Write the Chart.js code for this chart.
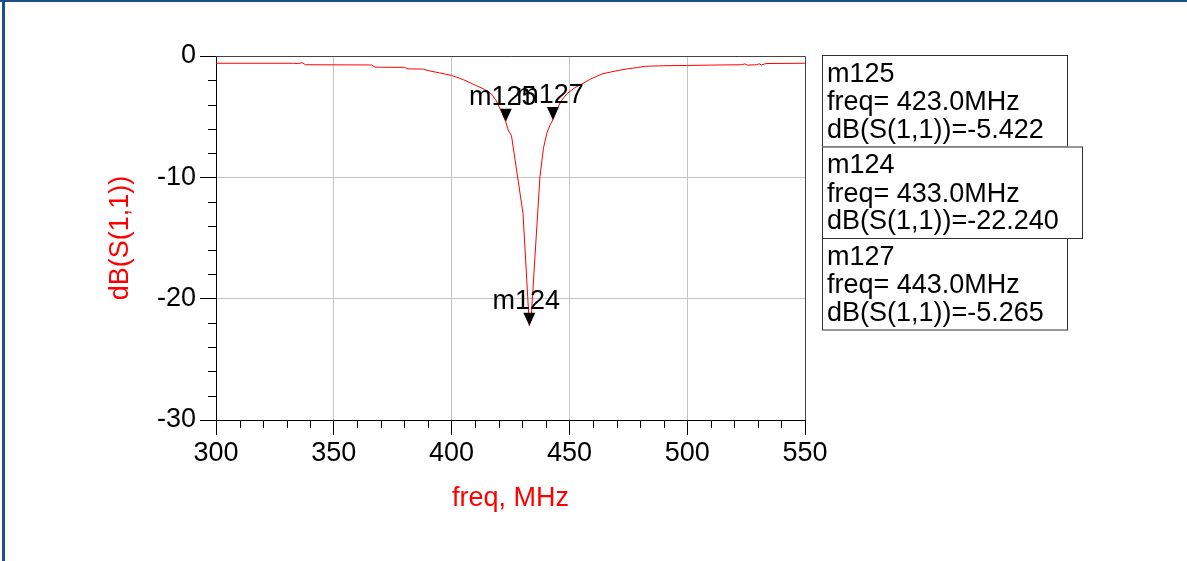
<!DOCTYPE html>
<html>
<head>
<meta charset="utf-8">
<script src="https://cdn.jsdelivr.net/npm/chart.js@4/dist/chart.umd.min.js"></script>
<style>
  html, body { margin: 0; padding: 0; background: #fff; }
  #wrap { position: relative; width: 1187px; height: 561px; overflow: hidden; }
  #edgeTop { position: absolute; left: 0; top: 0; width: 1187px; height: 2px; background: #1f4e80; }
  #edgeLeft { position: absolute; left: 2px; top: 0; width: 3px; height: 561px; background: #1f4e80; }
</style>
</head>
<body>
<div id="wrap">
  <canvas id="s11"></canvas>
  <div id="edgeTop"></div>
  <div id="edgeLeft"></div>
</div>
<script>
// dB(S(1,1)) trace
var freqs = [300, 333, 335, 336.5, 338, 366, 367.5, 380, 381.5, 388, 390, 395, 400, 405, 410, 414,
             417, 419, 421, 423, 424, 425.4, 430.3, 433, 433.8, 437.5, 439, 440.5, 442, 443, 444.5,
             446.5, 449, 452, 455.3, 459, 463.8, 468, 471, 475, 479, 482, 490, 500, 510, 523, 524.5,
             525.5, 529.5, 530.5, 531.5, 533.5, 550];
var dbS11 = [-0.60, -0.60, -0.62, -0.55, -0.72, -0.74, -0.92, -0.94, -1.06, -1.08, -1.20, -1.40, -1.60, -1.95, -2.40, -2.75,
             -3.15, -3.70, -4.50, -5.42, -6.10, -6.55, -12.95, -22.24, -21.50, -9.95, -7.60, -6.30, -5.60, -5.265, -4.50,
             -3.70, -3.10, -2.65, -2.30, -1.90, -1.48, -1.30, -1.18, -1.05, -0.95, -0.85, -0.80, -0.78, -0.75, -0.72, -0.65,
             -0.75, -0.72, -0.64, -0.74, -0.62, -0.60];

// markers
var markerNames = ['m125', 'm124', 'm127'];
var markerFreq = [423.0, 433.0, 443.0];
var markerDb = [-5.422, -22.240, -5.265];
var markerDrawOrder = [1, 0, 2];

var xMin = 300, xMax = 550, xStep = 50, xMinor = 10;
var yMin = -30, yMax = 0, yStep = 10, yMinor = 2;

var FONT = '"Liberation Sans", Arial, Helvetica, sans-serif';

var points = freqs.map(function (f, i) { return { x: f, y: dbS11[i] }; });

var adsDecor = {
  id: 'adsDecor',
  afterDraw: function (chart) {
    var c = chart.ctx, a = chart.chartArea;
    var xs = chart.scales.x, ys = chart.scales.y;
    c.save();
    // frame top / right
    c.strokeStyle = '#444';
    c.lineWidth = 1;
    c.beginPath();
    c.moveTo(a.left, a.top + 0.5); c.lineTo(a.right + 0.5, a.top + 0.5); c.lineTo(a.right + 0.5, a.bottom);
    c.stroke();
    // minor ticks
    c.strokeStyle = '#000';
    c.beginPath();
    for (var f = xMin; f <= xMax; f += xMinor) {
      if (f % xStep === 0) continue;
      var px = Math.round(xs.getPixelForValue(f)) + 0.5;
      c.moveTo(px, a.bottom); c.lineTo(px, a.bottom + 8);
    }
    for (var d = yMin; d <= yMax; d += yMinor) {
      if (d % yStep === 0) continue;
      var py = Math.round(ys.getPixelForValue(d)) + 0.5;
      c.moveTo(a.left - 8, py); c.lineTo(a.left, py);
    }
    c.stroke();

    // marker triangles and names
    c.font = '27px ' + FONT;
    c.textAlign = 'center';
    c.textBaseline = 'alphabetic';
    markerDrawOrder.forEach(function (i) {
      var mx = xs.getPixelForValue(markerFreq[i]);
      var my = ys.getPixelForValue(markerDb[i]);
      c.fillStyle = '#000';
      c.beginPath();
      c.moveTo(mx, my); c.lineTo(mx - 6, my - 13); c.lineTo(mx + 6, my - 13); c.closePath();
      c.fill();
      c.fillText(markerNames[i], mx - 3, my - 17);
    });

    // readout boxes
    c.textAlign = 'left';
    var boxTop = 55, boxLeft = 822, boxH = 91.5;
    for (var k = 0; k < markerNames.length; k++) {
      var lines = [markerNames[k],
                   'freq= ' + markerFreq[k].toFixed(1) + 'MHz',
                   'dB(S(1,1))=' + markerDb[k].toFixed(3)];
      var w = 0;
      lines.forEach(function (t) { w = Math.max(w, c.measureText(t).width); });
      var bw = Math.round(w + 28);
      var top = boxTop + k * boxH;
      c.fillStyle = '#fff';
      c.fillRect(boxLeft, top, bw, boxH);
      c.strokeStyle = '#333';
      c.strokeRect(boxLeft + 0.5, top + 0.5, bw, boxH);
      c.fillStyle = '#000';
      c.fillText(lines[0], boxLeft + 5, top + 26.5);
      c.fillText(lines[1], boxLeft + 5, top + 55);
      c.fillText(lines[2], boxLeft + 5, top + 82.5);
    }
    c.restore();
  }
};

new Chart(document.getElementById('s11').getContext('2d'), {
  type: 'scatter',
  data: {
    datasets: [{
      label: 'dB(S(1,1))',
      data: points,
      showLine: true,
      borderColor: '#ff0000',
      backgroundColor: '#ff0000',
      borderWidth: 1,
      pointRadius: 0,
      tension: 0
    }]
  },
  options: {
    responsive: true,
    maintainAspectRatio: false,
    animation: false,
    layout: { padding: { left: 104, top: 56, right: 382, bottom: 46 } },
    plugins: { legend: { display: false }, tooltip: { enabled: false } },
    scales: {
      x: {
        type: 'linear', min: xMin, max: xMax,
        afterFit: function (s) { s.height = 95; },
        ticks: { stepSize: xStep, color: '#000', padding: 2, font: { family: FONT, size: 27 } },
        grid: {
          color: function (ctx) { var v = ctx.tick && ctx.tick.value; return (v === xMin || v === xMax) ? 'rgba(0,0,0,0)' : '#c4c4c4'; },
          tickColor: '#000', tickLength: 15, lineWidth: 1
        },
        border: { color: '#000', width: 1 },
        title: { display: true, text: 'freq, MHz', color: '#ff0000', padding: 0, font: { family: FONT, size: 27 } }
      },
      y: {
        type: 'linear', min: yMin, max: yMax,
        afterFit: function (s) { s.width = 112; },
        ticks: { stepSize: yStep, color: '#000', padding: 4, font: { family: FONT, size: 27 } },
        grid: {
          color: function (ctx) { var v = ctx.tick && ctx.tick.value; return (v === yMin || v === yMax) ? 'rgba(0,0,0,0)' : '#c4c4c4'; },
          tickColor: '#000', tickLength: 16, lineWidth: 1
        },
        border: { color: '#000', width: 1 },
        title: { display: true, text: 'dB(S(1,1))', color: '#ff0000', padding: 0, font: { family: FONT, size: 27 } }
      }
    }
  },
  plugins: [adsDecor]
});
</script>
</body>
</html>
